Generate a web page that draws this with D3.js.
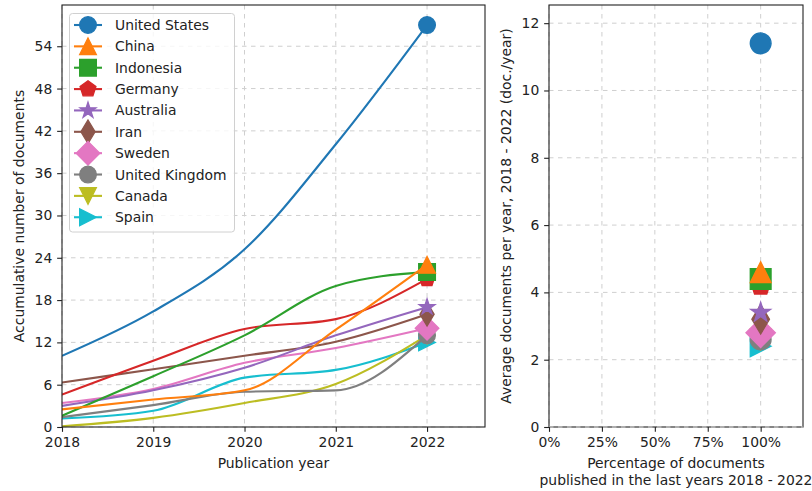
<!DOCTYPE html>
<html>
<head>
<meta charset="utf-8">
<script src="https://cdn.jsdelivr.net/npm/d3@7"></script>
<style>
  body { margin: 0; background: #fff; }
  svg { display: block; }
  text { font-family: "DejaVu Sans", sans-serif; fill: #222; }
</style>
</head>
<body>
<svg id="chart" width="812" height="491"></svg>
<script>
// ---- data ---------------------------------------------------------------
const years = [2018, 2019, 2020, 2021, 2022];
const countries = ["United States", "China", "Indonesia", "Germany", "Australia",
                   "Iran", "Sweden", "United Kingdom", "Canada", "Spain"];
const colors = ["#1f77b4", "#ff7f0e", "#2ca02c", "#d62728", "#9467bd",
                "#8c564b", "#e377c2", "#7f7f7f", "#bcbd22", "#17becf"];
const markers = ["circle", "triangleUp", "square", "pentagon", "star",
                 "thinDiamond", "diamond", "circle", "triangleDown", "triangleRight"];

// accumulated number of documents per country and year
const unitedStates  = [10.1, 16.4, 25.2, 40.1, 57];
const china         = [2.5, 3.9, 5.2, 13.8, 23];
const indonesia     = [1.6, 7.2, 13.0, 20.0, 22];
const germany       = [4.6, 9.4, 13.9, 15.3, 21];
const australia     = [3.0, 5.2, 8.4, 13.0, 17];
const iran          = [6.3, 8.2, 10.1, 12.1, 16];
const sweden        = [3.4, 5.4, 9.1, 11.2, 14];
const unitedKingdom = [1.4, 3.1, 5.0, 5.2, 13];
const canada        = [0.1, 1.3, 3.4, 6.1, 13];
const spain         = [1.2, 2.3, 7.0, 8.1, 12];
const accumulated = [unitedStates, china, indonesia, germany, australia,
                     iran, sweden, unitedKingdom, canada, spain];

// average documents per year 2018 - 2022, and share published in that window
const averagePerYear = [11.4, 4.6, 4.4, 4.2, 3.4, 3.2, 2.8, 2.6, 2.6, 2.4];
const shareRecent    = [1, 1, 1, 1, 1, 1, 1, 1, 1, 1];

const leftYTicks  = [0, 6, 12, 18, 24, 30, 36, 42, 48, 54];
const rightYTicks = [0, 2, 4, 6, 8, 10, 12];
const rightXTicks = [0, 0.25, 0.5, 0.75, 1];

// ---- helpers ------------------------------------------------------------
const FONT = 13.9, TICK = 4.86, PAD = 4.86;
const GRID = "#cfcfcf", DASH = "4.5,4.5";

function markerPath(type, ms) {
  const r = ms / 2;
  const poly = pts => "M" + pts.map(p => p[0].toFixed(2) + "," + p[1].toFixed(2)).join("L") + "Z";
  switch (type) {
    case "circle":
      return `M${r},0A${r},${r} 0 1,1 ${-r},0A${r},${r} 0 1,1 ${r},0Z`;
    case "square":
      return poly([[-r, -r], [r, -r], [r, r], [-r, r]]);
    case "triangleUp":
      return poly([[0, -r], [r, r], [-r, r]]);
    case "triangleDown":
      return poly([[0, r], [-r, -r], [r, -r]]);
    case "triangleRight":
      return poly([[r, 0], [-r, r], [-r, -r]]);
    case "pentagon":
      return poly(d3.range(5).map(k => {
        const a = -Math.PI / 2 + k * 2 * Math.PI / 5;
        return [r * Math.cos(a), r * Math.sin(a)];
      }));
    case "star":
      return poly(d3.range(10).map(k => {
        const a = -Math.PI / 2 + k * Math.PI / 5;
        const rr = k % 2 ? r * 0.381966 : r;
        return [rr * Math.cos(a), rr * Math.sin(a)];
      }));
    case "diamond": {
      const d = r * Math.SQRT2;
      return poly([[0, -d], [d, 0], [0, d], [-d, 0]]);
    }
    case "thinDiamond": {
      const d = r * Math.SQRT2;
      return poly([[0, -d], [0.6 * d, 0], [0, d], [-0.6 * d, 0]]);
    }
  }
}

const svg = d3.select("#chart");

function styleAxis(g) {
  g.select(".domain").remove();
  g.selectAll(".tick line").attr("stroke", "#222").attr("stroke-width", 1.1);
  g.selectAll(".tick text").attr("font-size", FONT).attr("fill", "#222")
    .style("font-family", "'DejaVu Sans', sans-serif");
}

function grid(g, xs, ys, x, y, box) {
  const gg = g.append("g").attr("stroke", GRID).attr("stroke-width", 1)
    .attr("stroke-dasharray", DASH);
  xs.forEach(v => gg.append("line").attr("x1", x(v)).attr("x2", x(v))
    .attr("y1", box.top).attr("y2", box.bottom));
  ys.forEach(v => gg.append("line").attr("x1", box.left).attr("x2", box.right)
    .attr("y1", y(v)).attr("y2", y(v)));
}

function frame(g, box) {
  g.append("rect").attr("x", box.left).attr("y", box.top)
    .attr("width", box.right - box.left).attr("height", box.bottom - box.top)
    .attr("fill", "none").attr("stroke", "#222").attr("stroke-width", 1.1);
}

// ---- left panel: accumulated documents ----------------------------------
const L = { left: 62, right: 485, top: 5, bottom: 427 };
const xL = d3.scaleLinear().domain([2018, 2022.635]).range([L.left, L.right]);
const yL = d3.scaleLinear().domain([0, 59.85]).range([L.bottom, L.top]);

const left = svg.append("g");
grid(left, years, leftYTicks, xL, yL, L);

svg.append("defs").append("clipPath").attr("id", "clipL")
  .append("rect").attr("x", L.left).attr("y", L.top)
  .attr("width", L.right - L.left).attr("height", L.bottom - L.top);

const line = d3.line().x((d, i) => xL(years[i])).y(d => yL(d)).curve(d3.curveMonotoneX);
const MS_L = 16.7;

// later countries first so the leading ones sit on top
d3.range(countries.length).reverse().forEach(k => {
  const g = left.append("g");
  g.append("path").attr("d", line(accumulated[k])).attr("clip-path", "url(#clipL)")
    .attr("fill", "none").attr("stroke", colors[k]).attr("stroke-width", 2.1);
  const last = accumulated[k].length - 1;
  g.append("path").attr("d", markerPath(markers[k], MS_L))
    .attr("transform", `translate(${xL(years[last])},${yL(accumulated[k][last])})`)
    .attr("fill", colors[k]).attr("stroke", colors[k]).attr("stroke-width", 1.3);
});

frame(left, L);
left.append("g").attr("transform", `translate(0,${L.bottom})`)
  .call(d3.axisBottom(xL).tickValues(years).tickFormat(d3.format("d"))
    .tickSize(TICK).tickPadding(PAD)).call(styleAxis);
left.append("g").attr("transform", `translate(${L.left},0)`)
  .call(d3.axisLeft(yL).tickValues(leftYTicks).tickSize(TICK).tickPadding(PAD))
  .call(styleAxis);

left.append("text").attr("x", (L.left + L.right) / 2).attr("y", 463)
  .attr("text-anchor", "middle").attr("dominant-baseline", "central")
  .attr("font-size", FONT).text("Publication year");
left.append("text").attr("transform", `translate(19,${(L.top + L.bottom) / 2}) rotate(-90)`)
  .attr("text-anchor", "middle").attr("dominant-baseline", "central")
  .attr("font-size", FONT).text("Accumulative number of documents");

// legend
const legend = left.append("g");
legend.append("rect").attr("x", 69.5).attr("y", 13.5).attr("width", 165).attr("height", 218.5)
  .attr("rx", 3).attr("fill", "#fff").attr("fill-opacity", 0.8)
  .attr("stroke", "#d0d0d0").attr("stroke-width", 1);
countries.forEach((name, k) => {
  const cy = 25 + k * 21.36;
  const it = legend.append("g");
  it.append("line").attr("x1", 74).attr("x2", 102).attr("y1", cy).attr("y2", cy)
    .attr("stroke", colors[k]).attr("stroke-width", 2.1);
  it.append("path").attr("d", markerPath(markers[k], MS_L))
    .attr("transform", `translate(88,${cy})`)
    .attr("fill", colors[k]).attr("stroke", colors[k]).attr("stroke-width", 1.3);
  it.append("text").attr("x", 115).attr("y", cy).attr("dominant-baseline", "central")
    .attr("font-size", FONT).text(name);
});

// ---- right panel: average output per year --------------------------------
const R = { left: 549, right: 803, top: 5, bottom: 427 };
const xR = d3.scaleLinear().domain([0, 1.2]).range([R.left, R.right]);
const yR = d3.scaleLinear().domain([0, 12.54]).range([R.bottom, R.top]);

const right = svg.append("g");
grid(right, rightXTicks, rightYTicks, xR, yR, R);
const MS_R = 20.8;
d3.range(countries.length).reverse().forEach(k => {
  right.append("path").attr("d", markerPath(markers[k], MS_R))
    .attr("transform", `translate(${xR(shareRecent[k])},${yR(averagePerYear[k])})`)
    .attr("fill", colors[k]).attr("stroke", colors[k]).attr("stroke-width", 1.3);
});
frame(right, R);
// the zero grid line runs over the bottom spine of this panel
right.append("line").attr("x1", R.left).attr("x2", R.right)
  .attr("y1", yR(0)).attr("y2", yR(0))
  .attr("stroke", "#e4e4e4").attr("stroke-width", 1.1).attr("stroke-dasharray", DASH);
right.append("g").attr("transform", `translate(0,${R.bottom})`)
  .call(d3.axisBottom(xR).tickValues(rightXTicks).tickFormat(d3.format(".0%"))
    .tickSize(TICK).tickPadding(PAD)).call(styleAxis);
right.append("g").attr("transform", `translate(${R.left},0)`)
  .call(d3.axisLeft(yR).tickValues(rightYTicks).tickSize(TICK).tickPadding(PAD))
  .call(styleAxis);

right.append("text").attr("x", (R.left + R.right) / 2).attr("y", 463)
  .attr("text-anchor", "middle").attr("dominant-baseline", "central")
  .attr("font-size", FONT).text("Percentage of documents");
right.append("text").attr("x", (R.left + R.right) / 2).attr("y", 480)
  .attr("text-anchor", "middle").attr("dominant-baseline", "central")
  .attr("font-size", FONT).text("published in the last years 2018 - 2022");
right.append("text").attr("transform", `translate(506,${(R.top + R.bottom) / 2}) rotate(-90)`)
  .attr("text-anchor", "middle").attr("dominant-baseline", "central")
  .attr("font-size", FONT).text("Average documents per year, 2018 - 2022 (doc./year)");
</script>
</body>
</html>
